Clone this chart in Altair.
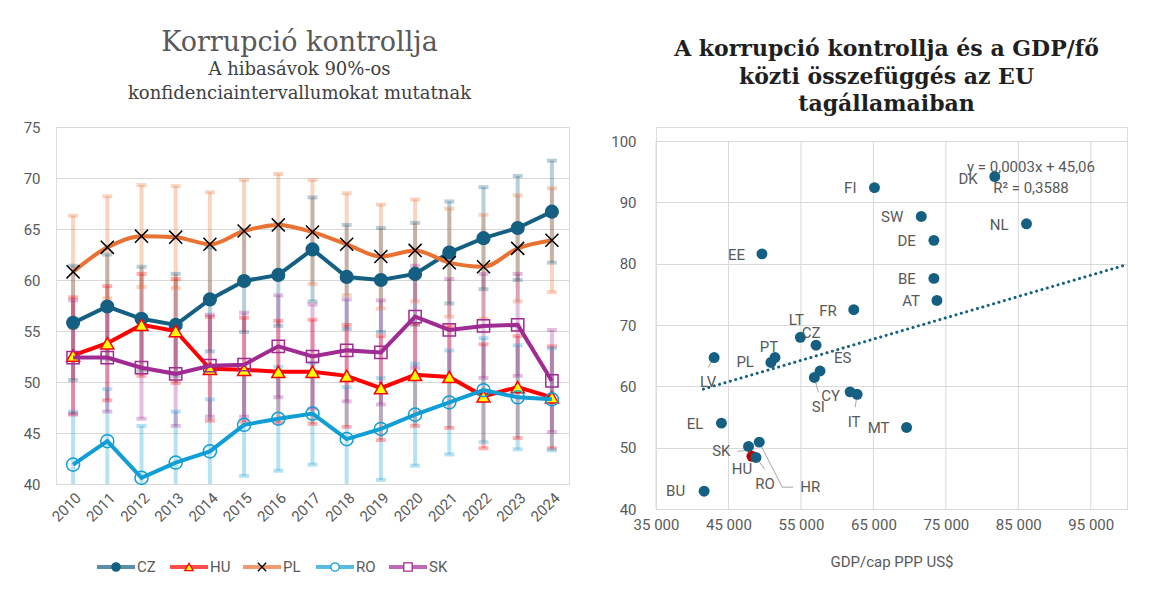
import altair as alt
import pandas as pd

# ---------------- Left chart data ----------------
years = list(range(2010, 2025))
series_names = ["CZ", "HU", "PL", "RO", "SK"]
cz = [55.8, 57.4, 56.2, 55.6, 58.1, 59.9, 60.5, 63.0, 60.3, 60.0, 60.6, 62.7, 64.1, 65.1, 66.7]
hu = [52.6, 53.8, 55.6, 55.0, 51.3, 51.2, 51.0, 51.0, 50.6, 49.4, 50.7, 50.5, 48.6, 49.5, 48.5]
pl = [60.8, 63.2, 64.3, 64.2, 63.5, 64.8, 65.4, 64.7, 63.5, 62.3, 62.9, 61.7, 61.3, 63.1, 63.9]
ro = [41.9, 44.2, 40.6, 42.1, 43.2, 45.8, 46.4, 46.9, 44.4, 45.4, 46.8, 48.0, 49.2, 48.5, 48.3]
sk = [52.4, 52.4, 51.4, 50.8, 51.6, 51.7, 53.5, 52.5, 53.1, 52.9, 56.4, 55.1, 55.5, 55.6, 50.1]
cz_err = [5.6, 5.1, 5.1, 5.0, 5.1, 5.0, 5.0, 5.1, 5.1, 5.1, 5.0, 5.0, 5.0, 5.1, 5.0]
hu_err = [5.7, 5.6, 5.0, 5.1, 5.1, 5.1, 5.0, 5.1, 5.0, 5.1, 5.0, 5.0, 5.1, 5.0, 5.0]
pl_err = [5.5, 5.0, 5.0, 5.0, 5.1, 5.0, 5.0, 5.1, 5.0, 5.1, 5.0, 5.3, 5.1, 5.2, 5.1]
ro_err = [5.2, 5.1, 5.1, 5.0, 5.1, 5.0, 5.1, 5.0, 5.1, 5.0, 5.0, 5.1, 5.1, 5.1, 5.0]
sk_err = [5.6, 5.3, 5.0, 5.1, 5.0, 5.1, 5.0, 5.1, 5.0, 5.1, 5.0, 5.0, 5.1, 5.0, 5.0]

# ---------------- Right chart data ----------------
countries = ["FI", "DK", "SW", "DE", "NL", "BE", "AT", "FR", "EE", "LT", "CZ", "PT", "PL",
             "LV", "ES", "SI", "CY", "IT", "MT", "EL", "SK", "HR", "HU", "RO", "BU"]
gdp = [65150, 81750, 71610, 73350, 86130, 73350, 73770, 62290, 49620, 54920, 57090, 51420, 50860,
       43020, 57640, 56850, 61790, 62760, 69580, 44030, 47770, 49250, 48240, 48790, 41640]
corr = [92.4, 94.2, 87.7, 83.8, 86.5, 77.6, 74.0, 72.5, 81.6, 68.0, 66.7, 64.7, 63.9,
        64.7, 62.5, 61.45, 59.1, 58.7, 53.3, 54.0, 50.2, 50.9, 48.6, 48.4, 42.9]
trend_x = [41540, 100000]
trend_y = [59.55, 79.85]
eq_lines = ["y = 0,0003x + 45,06", "R² = 0,3588"]
eq_x = [86750, 86750]
eq_y = [95.8, 92.3]
x_ticks = [35000, 45000, 55000, 65000, 75000, 85000, 95000]
y_ticks_r = [40, 50, 60, 70, 80, 90, 100]

# label placement (pixels relative to the dot) - styling only
label_pos = {
    "FI": (-18, 0, "right"), "DK": (-17, 2, "right"), "SW": (-18, 1, "right"),
    "DE": (-18, 1, "right"), "NL": (-18, 1, "right"), "BE": (-18, 1, "right"),
    "AT": (-17, 1, "right"), "FR": (-17, 1, "right"), "EE": (-17, 1, "right"),
    "LT": (-4, -17, "center"), "CZ": (-5, -12, "center"), "PT": (-6, -11, "center"),
    "PL": (-17, 0, "right"), "LV": (-6, 24, "center"), "ES": (14, -13, "left"),
    "SI": (4, 30, "center"), "CY": (-10, 4, "right"), "IT": (-3, 28, "center"),
    "MT": (-17, 1, "right"), "EL": (-18, 1, "right"), "SK": (-18, 5, "right"),
    "HR": (41, 45, "left"), "HU": (-10, 13, "center"), "RO": (9, 27, "center"),
    "BU": (-19, 0, "right"),
}
leaders = [
    ("LV", (0, 0), (-6, 10)), ("SI", (0, 0), (4, 15)), ("IT", (0, 0), (-2, 13)),
    ("SK", (-11, 5), (-3, 4)), ("RO", (0, 0), (9, 12)),
    ("HR", (0, 0), (23, 45)), ("HR", (23, 45), (34, 45)),
]

W_L, H_L = 513, 357
TOP_GAP = 14                      # right plot area starts lower than the left one
W_R, H_R = 471, 368 + TOP_GAP
XD = [35000, 100000]
ky = 60 / 368
kx = (XD[1] - XD[0]) / W_R
YD = [40, 100 + TOP_GAP * ky]

GRID = "#d9d9d9"
TXT = "#595959"
FONT = "Roboto"
SERIF = "DejaVu Serif"

colors = {"CZ": "#156082", "HU": "#ff0000", "PL": "#e97132", "RO": "#0f9ed5", "SK": "#a02b93"}
color_scale = alt.Scale(domain=series_names, range=[colors[s] for s in series_names])

rows = []
for name, vals, errs in zip(series_names, [cz, hu, pl, ro, sk], [cz_err, hu_err, pl_err, ro_err, sk_err]):
    for yr, v, e in zip(years, vals, errs):
        rows.append({"year": yr, "series": name, "value": v, "lo": round(v - e, 2), "hi": round(v + e, 2)})
df = pd.DataFrame(rows)

xL = alt.X("year:O", scale=alt.Scale(type="point", padding=0.5),
           axis=alt.Axis(title=None, labelAngle=-45, labelFontSize=15, labelColor=TXT, labelFont=FONT,
                         ticks=False, domain=True, domainColor=GRID, labelPadding=6, grid=False))
yscaleL = alt.Scale(domain=[40, 75], nice=False, zero=False)
yaxisL = alt.Axis(title=None, values=[40, 45, 50, 55, 60, 65, 70, 75], grid=True, gridColor=GRID,
                  domain=False, ticks=False, labelPadding=16, labelFontSize=15, labelColor=TXT, labelFont=FONT)

base = alt.Chart(df)
err_rule = base.mark_rule(strokeWidth=4, opacity=0.3, clip=True).encode(
    x=xL, y=alt.Y("lo:Q", scale=yscaleL, axis=yaxisL), y2="hi:Q",
    color=alt.Color("series:N", scale=color_scale, legend=None))
cap_lo = base.mark_tick(orient="horizontal", size=10, thickness=4, opacity=0.3, clip=True).encode(
    x=xL, y=alt.Y("lo:Q", scale=yscaleL, axis=yaxisL),
    color=alt.Color("series:N", scale=color_scale, legend=None))
cap_hi = base.mark_tick(orient="horizontal", size=10, thickness=4, opacity=0.3, clip=True).encode(
    x=xL, y=alt.Y("hi:Q", scale=yscaleL, axis=yaxisL),
    color=alt.Color("series:N", scale=color_scale, legend=None))

marker = {
    "CZ": dict(shape="circle", filled=True, color=colors["CZ"], size=200),
    "HU": dict(shape="triangle-up", filled=True, fill="#ffff00", stroke="#ff0000", strokeWidth=1.5, size=170),
    "PL": dict(shape="M-1,-1L1,1M-1,1L1,-1", filled=False, stroke="#000000", strokeWidth=1.5, size=170),
    "RO": dict(shape="circle", filled=False, stroke=colors["RO"], strokeWidth=1.5, size=170),
    "SK": dict(shape="square", filled=False, stroke=colors["SK"], strokeWidth=1.5, size=150),
}

layers = [err_rule, cap_lo, cap_hi]
for s in series_names:
    sub = base.transform_filter(alt.datum.series == s)
    interp = "monotone" if s == "PL" else "linear"
    layers.append(sub.mark_line(color=colors[s], strokeWidth=4, interpolate=interp).encode(
        x=xL, y=alt.Y("value:Q", scale=yscaleL, axis=yaxisL)))
    layers.append(sub.mark_point(opacity=1, **marker[s]).encode(
        x=xL, y=alt.Y("value:Q", scale=yscaleL, axis=yaxisL)))
plot_left = alt.layer(*layers)

# legend built from marks
leg_df = pd.DataFrame({"series": series_names})
leg_x = alt.X("series:N", scale=alt.Scale(type="point", domain=series_names, range=[60, 352], padding=0),
              axis=None)
leg_y = alt.value(H_L + 83)
leg_line = alt.Chart(leg_df).mark_tick(orient="horizontal", size=38, thickness=4).encode(
    x=leg_x, y=leg_y, color=alt.Color("series:N", scale=color_scale, legend=None))
leg_pt = alt.Chart(leg_df).mark_point(opacity=1, size=70, strokeWidth=1.3).encode(
    x=leg_x, y=leg_y,
    shape=alt.Shape("series:N", scale=alt.Scale(domain=series_names,
                    range=["circle", "triangle-up", "M-1,-1L1,1M-1,1L1,-1", "circle", "square"]), legend=None),
    fill=alt.Fill("series:N", scale=alt.Scale(domain=series_names,
                  range=[colors["CZ"], "#ffff00", "transparent", "white", "white"]), legend=None),
    stroke=alt.Stroke("series:N", scale=alt.Scale(domain=series_names,
                      range=[colors["CZ"], "#ff0000", "#000000", colors["RO"], colors["SK"]]), legend=None))
leg_txt = alt.Chart(leg_df).mark_text(align="left", baseline="middle", dx=21, fontSize=15,
                                      font=FONT, color=TXT).encode(x=leg_x, y=leg_y, text="series:N")
legend_layer = alt.layer(leg_line, leg_pt, leg_txt)

left = alt.layer(plot_left, legend_layer).resolve_scale(
    x="independent", shape="independent", fill="independent", stroke="independent"
).properties(
    width=W_L, height=H_L,
    title=alt.TitleParams(
        text="Korrupció kontrollja",
        subtitle=["A hibasávok 90%-os", "konfidenciaintervallumokat mutatnak"],
        font=SERIF, fontSize=27, fontWeight="normal", color=TXT,
        subtitleFont=SERIF, subtitleFontSize=18, subtitleColor="#404040",
        subtitleLineHeight=24, subtitlePadding=4,
        anchor="middle", frame="group", dx=-13, offset=16))

# ---------------- Right chart ----------------
sc = pd.DataFrame({"country": countries, "gdp": gdp, "corr": corr})
lab_rows = []
for c, g, v in zip(countries, gdp, corr):
    dx, dy, al = label_pos[c]
    lab_rows.append({"country": c, "lx": g + dx * kx, "ly": v - dy * ky, "align": al})
lab_df = pd.DataFrame(lab_rows)
lead_rows = []
pos = {c: (g, v) for c, g, v in zip(countries, gdp, corr)}
for c, a, b in leaders:
    g, v = pos[c]
    lead_rows.append({"x1": g + a[0] * kx, "y1": v - a[1] * ky, "x2": g + b[0] * kx, "y2": v - b[1] * ky})
lead_df = pd.DataFrame(lead_rows)
trend_df = pd.DataFrame({"gdp": trend_x, "corr": trend_y})
eq_df = pd.DataFrame({"t": eq_lines, "gdp": eq_x, "corr": eq_y})
vgrid_df = pd.DataFrame({"gx": x_ticks, "lo": [y_ticks_r[0]] * len(x_ticks), "hi": [y_ticks_r[-1]] * len(x_ticks)})

xscaleR = alt.Scale(domain=XD, nice=False, zero=False)
yscaleR = alt.Scale(domain=YD, nice=False, zero=False)
xaxisR = alt.Axis(values=x_ticks,
                  labelExpr="replace(format(datum.value, ','), ',', ' ')", labelFlush=False,
                  title="GDP/cap PPP US$", titleFont=FONT, titleFontSize=15, titleFontWeight="normal",
                  titleColor=TXT, grid=False, domain=False, ticks=False,
                  labelPadding=8, titlePadding=22, labelFontSize=15, labelColor=TXT, labelFont=FONT)
yaxisR = alt.Axis(values=y_ticks_r, title=None, grid=True, gridColor=GRID,
                  domain=False, ticks=False, labelPadding=20, labelFontSize=15, labelColor=TXT, labelFont=FONT)
XR = lambda f: alt.X(f, scale=xscaleR, axis=xaxisR)
YR = lambda f: alt.Y(f, scale=yscaleR, axis=yaxisR)

vgrid = alt.Chart(vgrid_df).mark_rule(color=GRID, strokeWidth=1).encode(x=XR("gx:Q"), y=YR("lo:Q"), y2="hi:Q")
trend = alt.Chart(trend_df).mark_line(color="#156082", strokeWidth=3, strokeDash=[0.1, 5.5],
                                      strokeCap="round").encode(x=XR("gdp:Q"), y=YR("corr:Q"))
lead = alt.Chart(lead_df).mark_rule(color="#a6a6a6", strokeWidth=1).encode(
    x=XR("x1:Q"), y=YR("y1:Q"), x2="x2:Q", y2="y2:Q")
pts = alt.Chart(sc).mark_circle(size=120, opacity=1).encode(
    x=XR("gdp:Q"), y=YR("corr:Q"),
    color=alt.condition(alt.datum.country == "HU", alt.value("#c00000"), alt.value("#156082")))
lab_layers = []
for al in ["left", "center", "right"]:
    lab_layers.append(alt.Chart(lab_df).transform_filter(alt.datum.align == al).mark_text(
        align=al, baseline="middle", fontSize=15, font=FONT, color=TXT).encode(
        x=XR("lx:Q"), y=YR("ly:Q"), text="country:N"))
eq = alt.Chart(eq_df).mark_text(align="center", baseline="middle", fontSize=15, font=FONT, color=TXT).encode(
    x=XR("gdp:Q"), y=YR("corr:Q"), text="t:N")

right = alt.layer(vgrid, trend, lead, pts, *lab_layers, eq).properties(
    width=W_R, height=H_R,
    title=alt.TitleParams(
        text=["A korrupció kontrollja és a GDP/fő", "közti összefüggés az EU", "tagállamaiban"],
        font=SERIF, fontSize=22, fontWeight="bold", color="#1f1f1f", lineHeight=27.5,
        anchor="middle", frame="group", dx=-5, offset=11))

chart = alt.hconcat(left, right, spacing=40).properties(
    padding={"left": 14, "top": 20, "right": 0, "bottom": 0}
).configure_view(stroke=None).configure(background="white")

chart.save("out.html", embed_options={"renderer": "svg", "actions": False})
